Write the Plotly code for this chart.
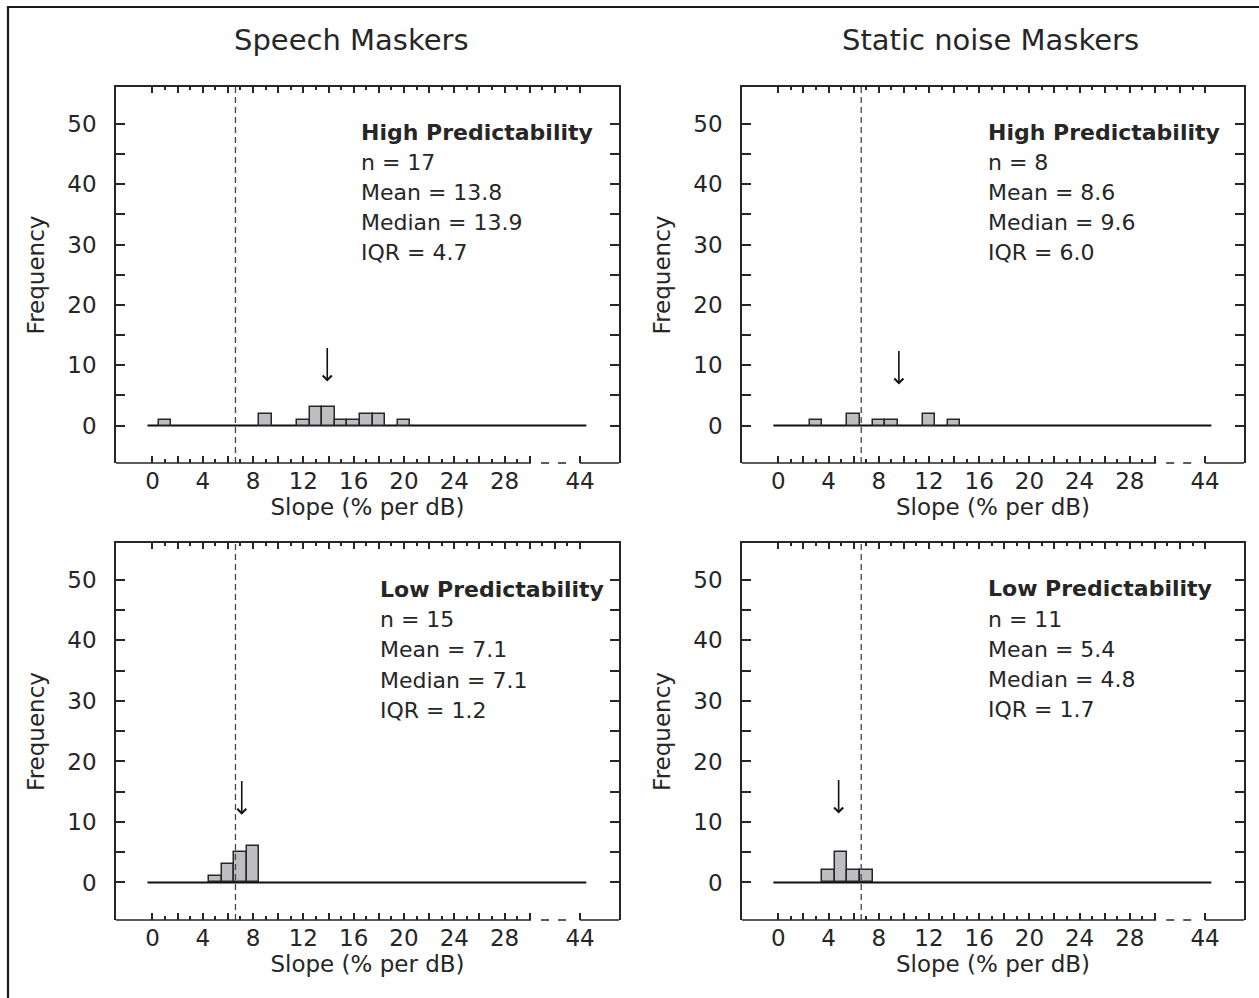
import plotly.graph_objects as go

# ---------------- data ----------------
panel_titles = ["Speech Maskers", "Static noise Maskers"]
pred_labels = ["High Predictability", "High Predictability", "Low Predictability", "Low Predictability"]
n_vals = [17, 8, 15, 11]
mean_vals = [13.8, 8.6, 7.1, 5.4]
median_vals = [13.9, 9.6, 7.1, 4.8]
iqr_vals = [4.7, 6.0, 1.2, 1.7]

# histogram bins (slope, % per dB) and frequencies
speech_high_bins = [1, 9, 12, 13, 14, 15, 16, 17, 18, 20]
speech_high_freq = [1, 2, 1, 3, 3, 1, 1, 2, 2, 1]
static_high_bins = [3, 6, 8, 9, 12, 14]
static_high_freq = [1, 2, 1, 1, 2, 1]
speech_low_bins = [5, 6, 7, 8]
speech_low_freq = [1, 3, 5, 6]
static_low_bins = [4, 5, 6, 7]
static_low_freq = [2, 5, 2, 2]

reference_slope = 6.6  # dashed vertical line

# x tick positions (axis break: 44 drawn at position 34)
x_major_vals = [0, 2, 4, 6, 8, 10, 12, 14, 16, 18, 20, 22, 24, 26, 28, 30, 34]
x_major_text = ["0", "", "4", "", "8", "", "12", "", "16", "", "20", "", "24", "", "28", "", "44"]
x_minor_vals = [1, 3, 5, 7, 9, 11, 13, 15, 17, 19, 21, 23, 25, 27, 29]
top_major_vals = list(range(0, 35, 2))
top_minor_vals = list(range(1, 34, 2))
y_tick_vals = [0, 5, 10, 15, 20, 25, 30, 35, 40, 45, 50]
y_tick_text = ["0", "", "10", "", "20", "", "30", "", "40", "", "50"]

# ---------------- style / layout ----------------
W, H = 1259, 998
FONT = "DejaVu Sans"
INK = "#262626"
BAR = "#bebec2"
XR = [-2.9, 37.1]
YR = [-6.2, 56.1]
x_domains = [[116 / W, 619 / W], [742 / W, 1244 / W]]
y_domains = [[1 - 463 / H, 1 - 87 / H], [1 - 920 / H, 1 - 543 / H]]
arrow_tip = [7.3, 6.8, 11.2, 11.4]
arrow_len = 5.8
text_x = [16.6, 16.7, 18.1, 16.7]
text_y0 = [48.6, 48.6, 48.4, 48.5]
text_step = 4.98
baseline_x = [-0.4, 34.5]
break_solid_end = 30.1
break_dash = [30.9, 33.0]
break_resume = 34

bins = [speech_high_bins, static_high_bins, speech_low_bins, static_low_bins]
freqs = [speech_high_freq, static_high_freq, speech_low_freq, static_low_freq]

TICK_FONT = dict(size=23, family=FONT, color=INK)
TEXT_FONT = dict(size=22, family=FONT, color=INK)

fig = go.Figure()
layout = dict(
    width=W, height=H, autosize=False,
    margin=dict(l=0, r=0, t=0, b=0),
    paper_bgcolor="white", plot_bgcolor="white",
    showlegend=False,
    font=dict(family=FONT, color=INK, size=22),
    bargap=0,
)
shapes = []
annotations = []

for i in range(4):
    k = i + 1
    col = i % 2
    row = i // 2
    xs = "" if k == 1 else str(k)
    xa = "x" + xs
    ya = "y" + xs
    top_k = k + 4

    fig.add_trace(go.Bar(
        x=bins[i], y=freqs[i], width=1,
        marker=dict(color=BAR, line=dict(color=INK, width=1.5)),
        xaxis=xa, yaxis=ya, hoverinfo="skip",
    ))
    fig.add_trace(go.Scatter(x=[None], y=[None], xaxis="x" + str(top_k), yaxis=ya,
                             mode="markers", hoverinfo="skip"))

    layout["xaxis" + xs] = dict(
        domain=x_domains[col], anchor=ya, range=XR, showgrid=False, zeroline=False,
        showline=False, ticks="inside", ticklen=7, tickwidth=1.5, tickcolor=INK,
        tickmode="array", tickvals=x_major_vals, ticktext=x_major_text,
        minor=dict(tickmode="array", tickvals=x_minor_vals, ticks="inside", ticklen=4,
                   tickwidth=1.5, tickcolor=INK, showgrid=False),
        tickfont=TICK_FONT,
        ticklabelstandoff=2,
        title=dict(text="Slope (% per dB)", standoff=3, font=TICK_FONT),
        fixedrange=True,
    )
    layout["xaxis" + str(top_k)] = dict(
        domain=x_domains[col], anchor=ya, overlaying=xa, side="top", range=XR,
        showgrid=False, zeroline=False, showline=True, linecolor=INK, linewidth=1.5,
        ticks="inside", ticklen=6, tickwidth=1.5, tickcolor=INK,
        tickmode="array", tickvals=top_major_vals, showticklabels=False,
        minor=dict(tickmode="array", tickvals=top_minor_vals, ticks="inside", ticklen=3,
                   tickwidth=1.5, tickcolor=INK, showgrid=False),
        fixedrange=True,
    )
    layout["yaxis" + xs] = dict(
        domain=y_domains[row], anchor=xa, range=YR, showgrid=False, zeroline=False,
        showline=True, mirror="ticks", linecolor=INK, linewidth=1.5,
        ticks="inside", ticklen=9, tickwidth=1.5, tickcolor=INK,
        tickmode="array", tickvals=y_tick_vals, ticktext=y_tick_text,
        tickfont=TICK_FONT,
        ticklabelstandoff=13,
        title=dict(text="Frequency", standoff=16, font=TICK_FONT),
        fixedrange=True,
    )

    # broken bottom spine
    line_style = dict(color=INK, width=1.5)
    shapes.append(dict(type="line", xref=xa, yref=ya + " domain", x0=XR[0], x1=break_solid_end,
                       y0=0, y1=0, line=line_style))
    shapes.append(dict(type="line", xref=xa, yref=ya + " domain", x0=break_dash[0], x1=break_dash[1],
                       y0=0, y1=0, line=dict(color=INK, width=1.5, dash="8px,9px")))
    shapes.append(dict(type="line", xref=xa, yref=ya + " domain", x0=break_resume, x1=XR[1],
                       y0=0, y1=0, line=line_style))
    # baseline at zero
    shapes.append(dict(type="line", xref=xa, yref=ya, x0=baseline_x[0], x1=baseline_x[1],
                       y0=0, y1=0, line=dict(color="#111", width=2), layer="below"))
    # dashed reference line
    shapes.append(dict(type="line", xref=xa, yref=ya + " domain", x0=reference_slope,
                       x1=reference_slope, y0=0, y1=1,
                       line=dict(color="#444", width=1.3, dash="6px,4px")))

    # median arrow
    annotations.append(dict(
        x=median_vals[i], y=arrow_tip[i], xref=xa, yref=ya,
        ax=median_vals[i], ay=arrow_tip[i] + arrow_len, axref=xa, ayref=ya,
        showarrow=True, arrowhead=4, arrowsize=1.1, arrowwidth=1.6, arrowcolor="#111", text="",
    ))
    # statistics text, one line per annotation
    lines = [f"<b>{pred_labels[i]}</b>", f"n = {n_vals[i]}", f"Mean = {mean_vals[i]:.1f}",
             f"Median = {median_vals[i]:.1f}", f"IQR = {iqr_vals[i]:.1f}"]
    for j, txt in enumerate(lines):
        annotations.append(dict(
            x=text_x[i], y=text_y0[i] - j * text_step, xref=xa, yref=ya,
            xanchor="left", yanchor="middle", xshift=-2,
            text=txt, showarrow=False, align="left", font=TEXT_FONT,
        ))

# column titles
title_x = [351 / W, 990 / W]
for j, t in enumerate(panel_titles):
    annotations.append(dict(x=title_x[j], y=1 - 40 / H, xref="paper", yref="paper",
                            text=t, showarrow=False, xanchor="center", yanchor="middle",
                            font=dict(size=29, family=FONT, color=INK)))

# outer frame
shapes.append(dict(type="rect", xref="paper", yref="paper", x0=8 / W, x1=1.05,
                   y0=-0.05, y1=1 - 7 / H, line=dict(color="#1a1a1a", width=2.2)))

layout["shapes"] = shapes
layout["annotations"] = annotations
fig.update_layout(**layout)

fig.write_html("out.html", config={"displayModeBar": False},
               post_script="document.body.style.margin='0';document.body.style.overflow='hidden';")
